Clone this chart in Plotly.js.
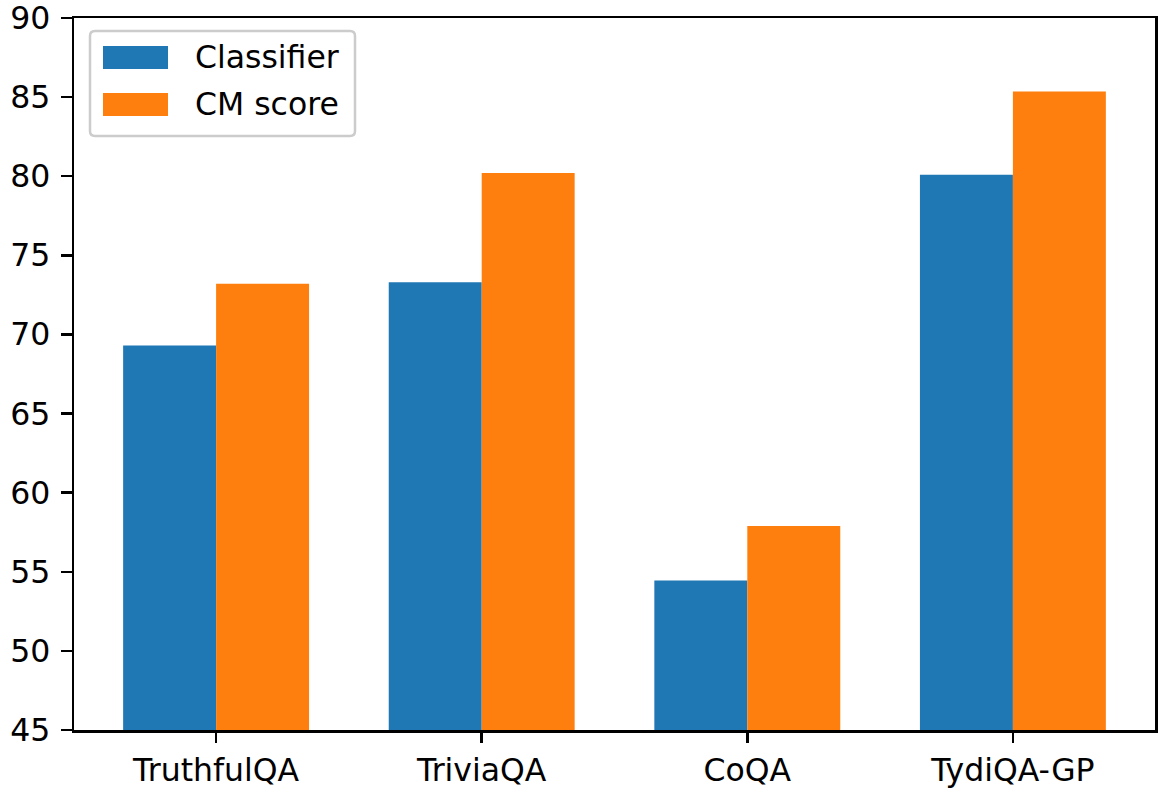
<!DOCTYPE html>
<html>
<head>
<meta charset="utf-8">
<script src="https://cdn.plot.ly/plotly-3.0.1.min.js"></script>
<style>html,body{margin:0;padding:0;background:#fff;}#chart{width:1163px;height:790px;}</style>
</head>
<body>
<div id="chart"></div>
<script>
const categories = ["TruthfulQA", "TriviaQA", "CoQA", "TydiQA-GP"];
const classifier = [69.3, 73.3, 54.45, 80.1];
const cmScore = [73.2, 80.2, 57.9, 85.35];
const seriesNames = ["Classifier", "CM score"];
const yTicks = [45, 50, 55, 60, 65, 70, 75, 80, 85, 90];

const colors = ["#1f77b4", "#ff7f0e"];
const font = "DejaVu Sans, sans-serif";
const fs = 31.5;

const traces = [
  {type: "bar", name: seriesNames[0], x: categories, y: classifier,
   marker: {color: colors[0], line: {width: 0}}, showlegend: false, hoverinfo: "skip"},
  {type: "bar", name: seriesNames[1], x: categories, y: cmScore,
   marker: {color: colors[1], line: {width: 0}}, showlegend: false, hoverinfo: "skip"}
];

// plot area in pixels: x 74..1155, y 18..730
const L = 74, R = 1155, T = 18, B = 730;
const W = R - L, H = B - T;
function px(x) { return (x - L) / W; }
function py(y) { return (B - y) / H; }

function roundRect(x0, y0, x1, y1, r) {
  const rx = r / W, ry = r / H;
  const a = px(x0), b = px(x1), t = py(y0), u = py(y1);
  return `M ${a + rx},${t} L ${b - rx},${t} Q ${b},${t} ${b},${t - ry} L ${b},${u + ry} Q ${b},${u} ${b - rx},${u} L ${a + rx},${u} Q ${a},${u} ${a},${u + ry} L ${a},${t - ry} Q ${a},${t} ${a + rx},${t} Z`;
}

const shapes = [
  {type: "path", xref: "paper", yref: "paper", path: roundRect(90, 31, 355, 136, 5),
   fillcolor: "rgba(255,255,255,0.8)", line: {color: "#cccccc", width: 2.5}},
  {type: "rect", xref: "paper", yref: "paper", x0: px(103), x1: px(168), y0: py(69), y1: py(46),
   fillcolor: colors[0], line: {width: 0}},
  {type: "rect", xref: "paper", yref: "paper", x0: px(103), x1: px(168), y0: py(116), y1: py(93),
   fillcolor: colors[1], line: {width: 0}}
];

const annotations = [
  {xref: "paper", yref: "paper", x: px(193), y: py(57.5), xanchor: "left", yanchor: "middle",
   text: seriesNames[0], showarrow: false, font: {family: font, size: fs, color: "#000"}},
  {xref: "paper", yref: "paper", x: px(193), y: py(104.5), xanchor: "left", yanchor: "middle",
   text: seriesNames[1], showarrow: false, font: {family: font, size: fs, color: "#000"}}
];

const axisCommon = {
  showline: true, linecolor: "#000", linewidth: 2.5, mirror: true,
  ticks: "outside", ticklen: 10.8, tickwidth: 2.5, tickcolor: "#000",
  showgrid: false, zeroline: false, ticklabeloverflow: "allow",
  tickfont: {family: font, size: fs, color: "#000"}
};

const layout = {
  width: 1163, height: 790,
  margin: {l: L, r: 1163 - R, t: T, b: 790 - B, pad: 0},
  paper_bgcolor: "#fff", plot_bgcolor: "#fff",
  barmode: "group", bargap: 0.3, bargroupgap: 0,
  xaxis: Object.assign({}, axisCommon, {type: "category", range: [-0.535, 3.535]}),
  yaxis: Object.assign({}, axisCommon, {range: [45, 90], tickvals: yTicks, ticktext: yTicks.map(String), ticklabelstandoff: 4}),
  shapes: shapes,
  annotations: annotations,
  font: {family: font}
};

Plotly.newPlot("chart", traces, layout, {displayModeBar: false, staticPlot: true});
</script>
</body>
</html>
